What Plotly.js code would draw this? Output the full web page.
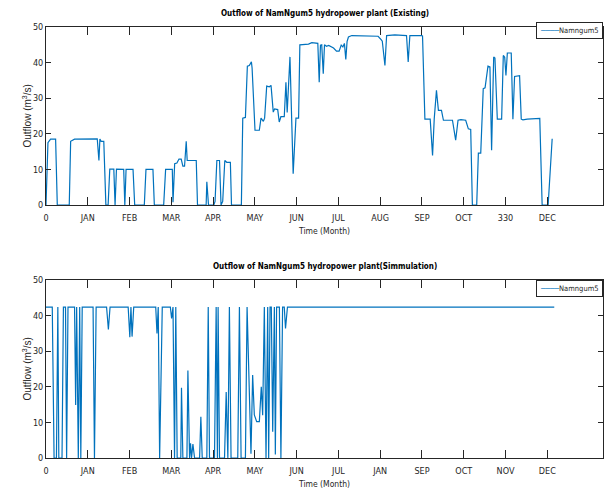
<!DOCTYPE html>
<html>
<head>
<meta charset="utf-8">
<script src="https://cdn.plot.ly/plotly-3.0.1.min.js"></script>
<style>
html,body{margin:0;padding:0;background:#fff;}
#chart{width:604px;height:490px;}
</style>
</head>
<body>
<div id="chart"></div>
<script>
// Tick positions (day of year) and labels
const tickDays = [0,30,60,90,120,150,180,210,240,270,300,330,360];
const tickLabelsExisting = ['0','JAN','FEB','MAR','APR','MAY','JUN','JUL','AUG','SEP','OCT','330','DEC'];
const tickLabelsSim = ['0','JAN','FEB','MAR','APR','MAY','JUN','JUL','JAN','SEP','OCT','NOV','DEC'];
const yTicks = [0,10,20,30,40,50];
const seriesName = 'Namngum5';

// Existing outflow (m3/s) - breakpoints
const existingDay = [0,1.4,3.3,6.9,8.1,16.7,17.7,20.5,36.8,38,38.7,39.6,41.5,43,44.6,45.8,48.7,49.6,50.6,55.8,56.6,57.5,62.5,63.7,70.6,71.8,76.8,77.8,84.5,85.9,90.7,
  91.2,92.4,94,95.5,97.1,98.3,99.5,100.7,101.4,107.9,108.8,115,115.5,116.7,120.5,121.4,122.7,124.6,125.7,126.9,128.4,129.8,132.4,133.2,140.3,141.3,143.2,144.6,146,147.5,148,150.1,153.2,154.4,156.1,157,158.5,160.4,161.6,163.2,164.2,166.4,167.5,168.7,171.1,172.3,173.2,175.2,177.5,179.5,181.4,
  182.3,188.5,190.9,195.2,196.2,197.1,198,199.1,200,201.4,203,205.3,206.5,208.6,210.5,212,213.2,214.3,215.3,216.2,217.2,219.6,236.3,238.5,240.5,241.5,243.4,244.6,250.5,258.9,260.1,261.3,269.6,270.4,
  272.1,275.9,277.6,278.8,280.4,281.8,284,285.4,291.9,294.2,295.9,298,301.4,303.3,305,306.2,309.3,310.5,312.2,314,315.3,317.4,318.8,320,321.5,322.4,324.1,327.2,328.4,329.4,330.3,331.3,334.1,335.3,336.5,340.1,341.3,342.5,345.6,354.6,356.3,360.6,363.5];
const existingFlow = [0,17.5,18.5,18.5,0,0,17.9,18.5,18.6,12.5,18.5,17.9,17.9,0,0,10.1,10.1,0,10.1,10,0,10,10,0,0,10,10,0,0,10,10,
  0.8,11.6,11.8,12.9,12.9,10.9,10.9,17.9,12.5,12.5,0,0,6.5,0,0,1,12.5,12.5,0,1,12.5,12,12,0,0,24.4,24.6,39,39.2,40.2,38.5,21,21,24.4,23.5,24.4,33.4,33.2,33.6,26.1,27,26.8,23.3,24.8,24.8,34.5,26,41.6,8.8,24.4,24.4,
  45,45.2,45.6,45.4,34.5,44.9,45,36.9,45,44.6,44.8,44.4,44.1,43.2,43.2,44.9,44.4,45.4,40.9,45.9,47.2,47.6,47.6,47.4,46.5,46,39.2,47.6,47.8,47.6,40.2,47.6,47.6,47.5,
  24.1,24.1,13.9,24.2,32.2,26.6,26.6,23.8,23.8,18.2,23.8,24,23.8,21.4,21.2,0,0,14.6,14.6,32.7,32.9,39,38.8,15.4,41.6,41.3,24.1,24.1,42,41.5,36.4,42.7,42.7,24.1,36.1,36.3,24.1,23.9,24.1,24.3,0,0,18.6];

// Simulated outflow (m3/s) - breakpoints
const simDay = [0,4.5,5.8,7.5,8.5,9.2,11.5,12.5,14,14.8,15.8,20.5,21.3,22,23.2,24.2,25,26,33.8,34.8,36,43.5,44.8,46,59,60.2,61,61.8,63,78.8,79.7,80.6,81.6,83.5,89.3,90.2,91.2,
  92.3,93.2,94.2,96.8,97.3,98.3,101.2,101.9,103.1,103.8,104.5,105.5,106.7,110.3,111.2,112.2,115.5,116.5,117.4,121,122.2,123.1,123.6,124.6,128.2,129.4,130.6,131.7,132.9,137.7,138.9,140.1,143.2,144.4,146.1,147.2,148.4,149.6,151.3,153.2,154.6,155.6,156.8,158,159.2,159.9,160.9,161.8,162.8,164,164.7,165.6,167.6,168.7,169.9,171.1,172,173.4,365];
const simFlow = [42.4,42.4,0,0,42.4,0,0,42.4,42.4,0,42.4,42.4,14.9,42.4,0,42.4,0,42.4,42.4,0,42.4,42.4,36.1,42.4,42.4,33.9,42.4,34.1,42.4,42.4,35,42.4,0,42.4,42.4,39.2,42.4,
  0,42.4,0,0,19.7,0,0,24.6,0,4.1,0,3.9,0,0,11.6,0,0,42.4,0,0,42.4,0,42.4,0,0,18.5,0,42.4,0,0,42.4,0,0,42.4,19.6,1.2,23.3,12.1,10.2,10.2,20,12,42.4,0,42.4,0,42.4,42.4,7.4,42.4,1,42.4,42.4,0,42.4,42.4,36.4,42.4,42.4];

const FONT = '"Liberation Sans Narrow", "Arial Narrow", "DejaVu Sans Condensed", "Liberation Sans", Arial, sans-serif';
const FONT_V = '"Liberation Sans", Arial, sans-serif';
const AX = '#262626';
const lineColor = '#0072BD';

const traces = [
  {x: existingDay, y: existingFlow, type: 'scatter', mode: 'lines', name: seriesName,
   line: {color: lineColor, width: 1.2}, xaxis: 'x', yaxis: 'y', showlegend: false},
  {x: simDay, y: simFlow, type: 'scatter', mode: 'lines', name: seriesName,
   line: {color: lineColor, width: 1.2}, xaxis: 'x2', yaxis: 'y2', showlegend: false}
];

function xAxis(labels, anchor) {
  return {
    anchor: anchor, domain: [0, 1], range: [0, 400],
    tickmode: 'array', tickvals: tickDays, ticktext: labels,
    ticks: 'inside', ticklen: 8, tickwidth: 1, tickcolor: AX,
    showline: true, linecolor: AX, linewidth: 1, mirror: 'ticks',
    showgrid: false, zeroline: false, ticklabelstandoff: 4,
    tickfont: {family: FONT, size: 9, color: AX},
    title: {text: 'Time (Month)', font: {family: FONT, size: 8.5, color: AX}, standoff: 6}
  };
}
function yAxis(domain, anchor) {
  return {
    anchor: anchor, domain: domain, range: [0, 50],
    tickmode: 'array', tickvals: yTicks,
    ticks: 'inside', ticklen: 5, tickwidth: 1, tickcolor: AX,
    showline: true, linecolor: AX, linewidth: 1, mirror: 'ticks',
    showgrid: false, zeroline: false,
    tickfont: {family: FONT, size: 9, color: AX}
  };
}

const topDomain = [0.587, 1];
const botDomain = [0, 0.413];

function subTitle(text, y) {
  return {text: '<b>' + text + '</b>', xref: 'paper', yref: 'paper',
    x: 0.5, y: y, yshift: 7, xanchor: 'center', yanchor: 'bottom', showarrow: false,
    font: {family: FONT, size: 8, color: '#000'}};
}
function yTitle(y) {
  return {text: 'Outflow (m<sup>3</sup>/s)', xref: 'paper', yref: 'paper',
    x: -0.035, y: y, xanchor: 'center', yanchor: 'middle', textangle: -90, showarrow: false,
    font: {family: FONT_V, size: 10, color: AX}};
}
function legendBox(y) {
  return {text: '<span style="color:' + lineColor + ';font-family:DejaVu Sans"><b>\u2500\u2500\u2500\u2500</b></span>' + seriesName,
    xref: 'paper', yref: 'paper', x: 1, y: y, xanchor: 'right', yanchor: 'top', showarrow: false,
    bgcolor: '#fff', bordercolor: AX, borderwidth: 1, borderpad: 3,
    font: {family: FONT, size: 7.5, color: AX}};
}

const layout = {
  width: 604, height: 490,
  margin: {l: 46, r: 1, t: 27, b: 32},
  paper_bgcolor: '#fff', plot_bgcolor: '#fff',
  font: {family: FONT, color: AX},
  showlegend: false,
  xaxis: xAxis(tickLabelsExisting, 'y'),
  yaxis: yAxis(topDomain, 'x'),
  xaxis2: xAxis(tickLabelsSim, 'y2'),
  yaxis2: yAxis(botDomain, 'x2'),
  annotations: [
    subTitle('Outflow of NamNgum5 hydropower plant (Existing)', topDomain[1]),
    subTitle('Outflow of NamNgum5 hydropower plant(Simmulation)', botDomain[1]),
    yTitle((topDomain[0] + topDomain[1]) / 2),
    yTitle((botDomain[0] + botDomain[1]) / 2),
    legendBox(topDomain[1] + 0.012),
    legendBox(botDomain[1])
  ]
};

Plotly.newPlot('chart', traces, layout, {displayModeBar: false, staticPlot: true});
</script>
</body>
</html>
